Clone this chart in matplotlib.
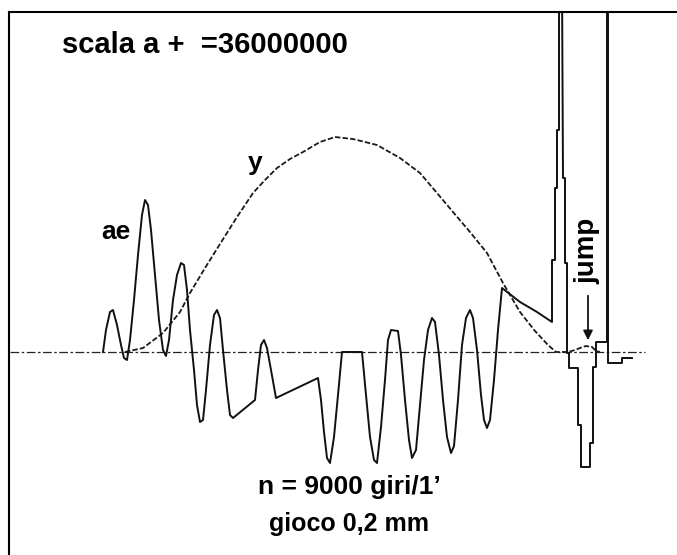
# redraw of the scanned cam diagram: acceleration trace (ae) and lift curve (y)
import matplotlib.pyplot as plt

# acceleration trace ae (stepped plotter line)
ae_x = [103, 106, 110, 113, 117, 121, 124, 127, 130, 134, 138, 142, 145, 148, 151, 155, 159, 163,
        166, 169, 173, 177, 181, 184, 187, 190, 194, 197, 200, 203, 206, 210, 214, 217, 220, 223,
        227, 230, 233, 255, 258, 261, 264, 267, 271, 276, 318, 321, 324, 327, 330, 334, 338, 342,
        362, 366, 370, 374, 377, 381, 385, 388, 391, 398, 401, 405, 409, 412, 416, 420, 424, 428,
        432, 435, 439, 443, 447, 451, 454, 458, 462, 466, 470, 473, 477, 481, 484, 487, 490, 494,
        498, 502, 520, 537, 552, 552, 555, 555, 557, 557, 559, 559, 562, 563, 565, 565, 567, 567,
        569, 569, 578, 578, 581, 581, 590, 590, 593, 593, 596, 596, 607, 607, 608, 608, 622, 622, 632]
ae_y = [0, 22, 40, 42, 27, 7, -6, -8, 12, 52, 97, 137, 152, 147, 122, 77, 32, 2,
        -4, 12, 52, 77, 89, 87, 62, 22, -18, -53, -70, -68, -38, 7, 37, 42, 34, 2,
        -38, -63, -66, -48, -18, 7, 12, 4, -18, -46, -26, -48, -80, -106, -111, -85, -43, 0,
        0, -43, -85, -108, -111, -75, -28, 12, 22, 21, -3, -48, -88, -106, -98, -53, -8, 22,
        34, 30, -3, -48, -85, -101, -94, -48, 7, 34, 42, 34, 2, -43, -68, -76, -68, -28,
        22, 64, 50, 40, 30, 92, 92, 164, 164, 222, 222, 372, 372, 174, 174, 89, 89, -1,
        -1, -16, -16, -73, -73, -115, -115, -91, -91, -15, -15, 10, 10, 372, 372, -11, -11, -6, -6]

# lift curve y (with the small "jump" after the spike)
lift_x = [125, 143, 163, 180, 190, 205, 220, 237, 253, 265, 277, 290, 303, 320, 335, 353, 377,
          400, 420, 437, 453, 470, 487, 503, 520, 535, 548, 556, 568, 575, 580, 586, 592, 596, 600]
lift_y = [0, 4, 19, 40, 59, 84, 108, 135, 159, 172, 184, 193, 200, 210, 215, 213, 207,
          194, 179, 159, 140, 120, 99, 69, 40, 21, 7, 0, 0, 2, 4, 6, 5, 1, 0]

# zero line
zero_x = [10, 645]

fig = plt.figure(figsize=(6.77, 5.55), dpi=100)
ax = fig.add_axes([9 / 677, 0, 668 / 677, 543 / 555])
ax.set_xlim(9, 677)
ax.set_ylim(-203, 340)

ax.plot(zero_x, [0, 0], color="#222222", lw=0.9, dashes=(7, 2, 2, 2))
ax.plot(lift_x, lift_y, color="#1a1a1a", lw=1.3, dashes=(3, 1.2))
ax.plot(ae_x, ae_y, color="#111111", lw=1.4)

# labels
font = ["Liberation Sans", "DejaVu Sans"]
ax.text(62, 307, "scala a +  =36000000", fontsize=21, fontweight="bold", family=font, va="center")
ax.text(255, 189, "y", fontsize=19, fontweight="bold", family=font, ha="center", va="center")
ax.text(116, 120, "ae", fontsize=19, fontweight="bold", family=font, ha="center", va="center")
ax.text(587, 101, "jump", fontsize=20, fontweight="bold", family=font, rotation=90,
        ha="center", va="center")
ax.annotate("", xy=(588, 9), xytext=(588, 59),
            arrowprops=dict(arrowstyle="-|>", color="#111111", lw=1.3, mutation_scale=14))
ax.text(349, -135, "n = 9000 giri/1\u2019", fontsize=19, fontweight="bold", family=font,
        ha="center", va="center")
ax.text(349, -172, "gioco 0,2 mm", fontsize=18, fontweight="bold", family=font,
        ha="center", va="center")

# frame: only left and top edges are visible in the scan
ax.spines["right"].set_visible(False)
ax.spines["bottom"].set_visible(False)
ax.spines["left"].set_linewidth(1.5)
ax.spines["top"].set_linewidth(1.5)
ax.set_xticks([])
ax.set_yticks([])

plt.savefig("out.png", dpi=100)
plt.close()
